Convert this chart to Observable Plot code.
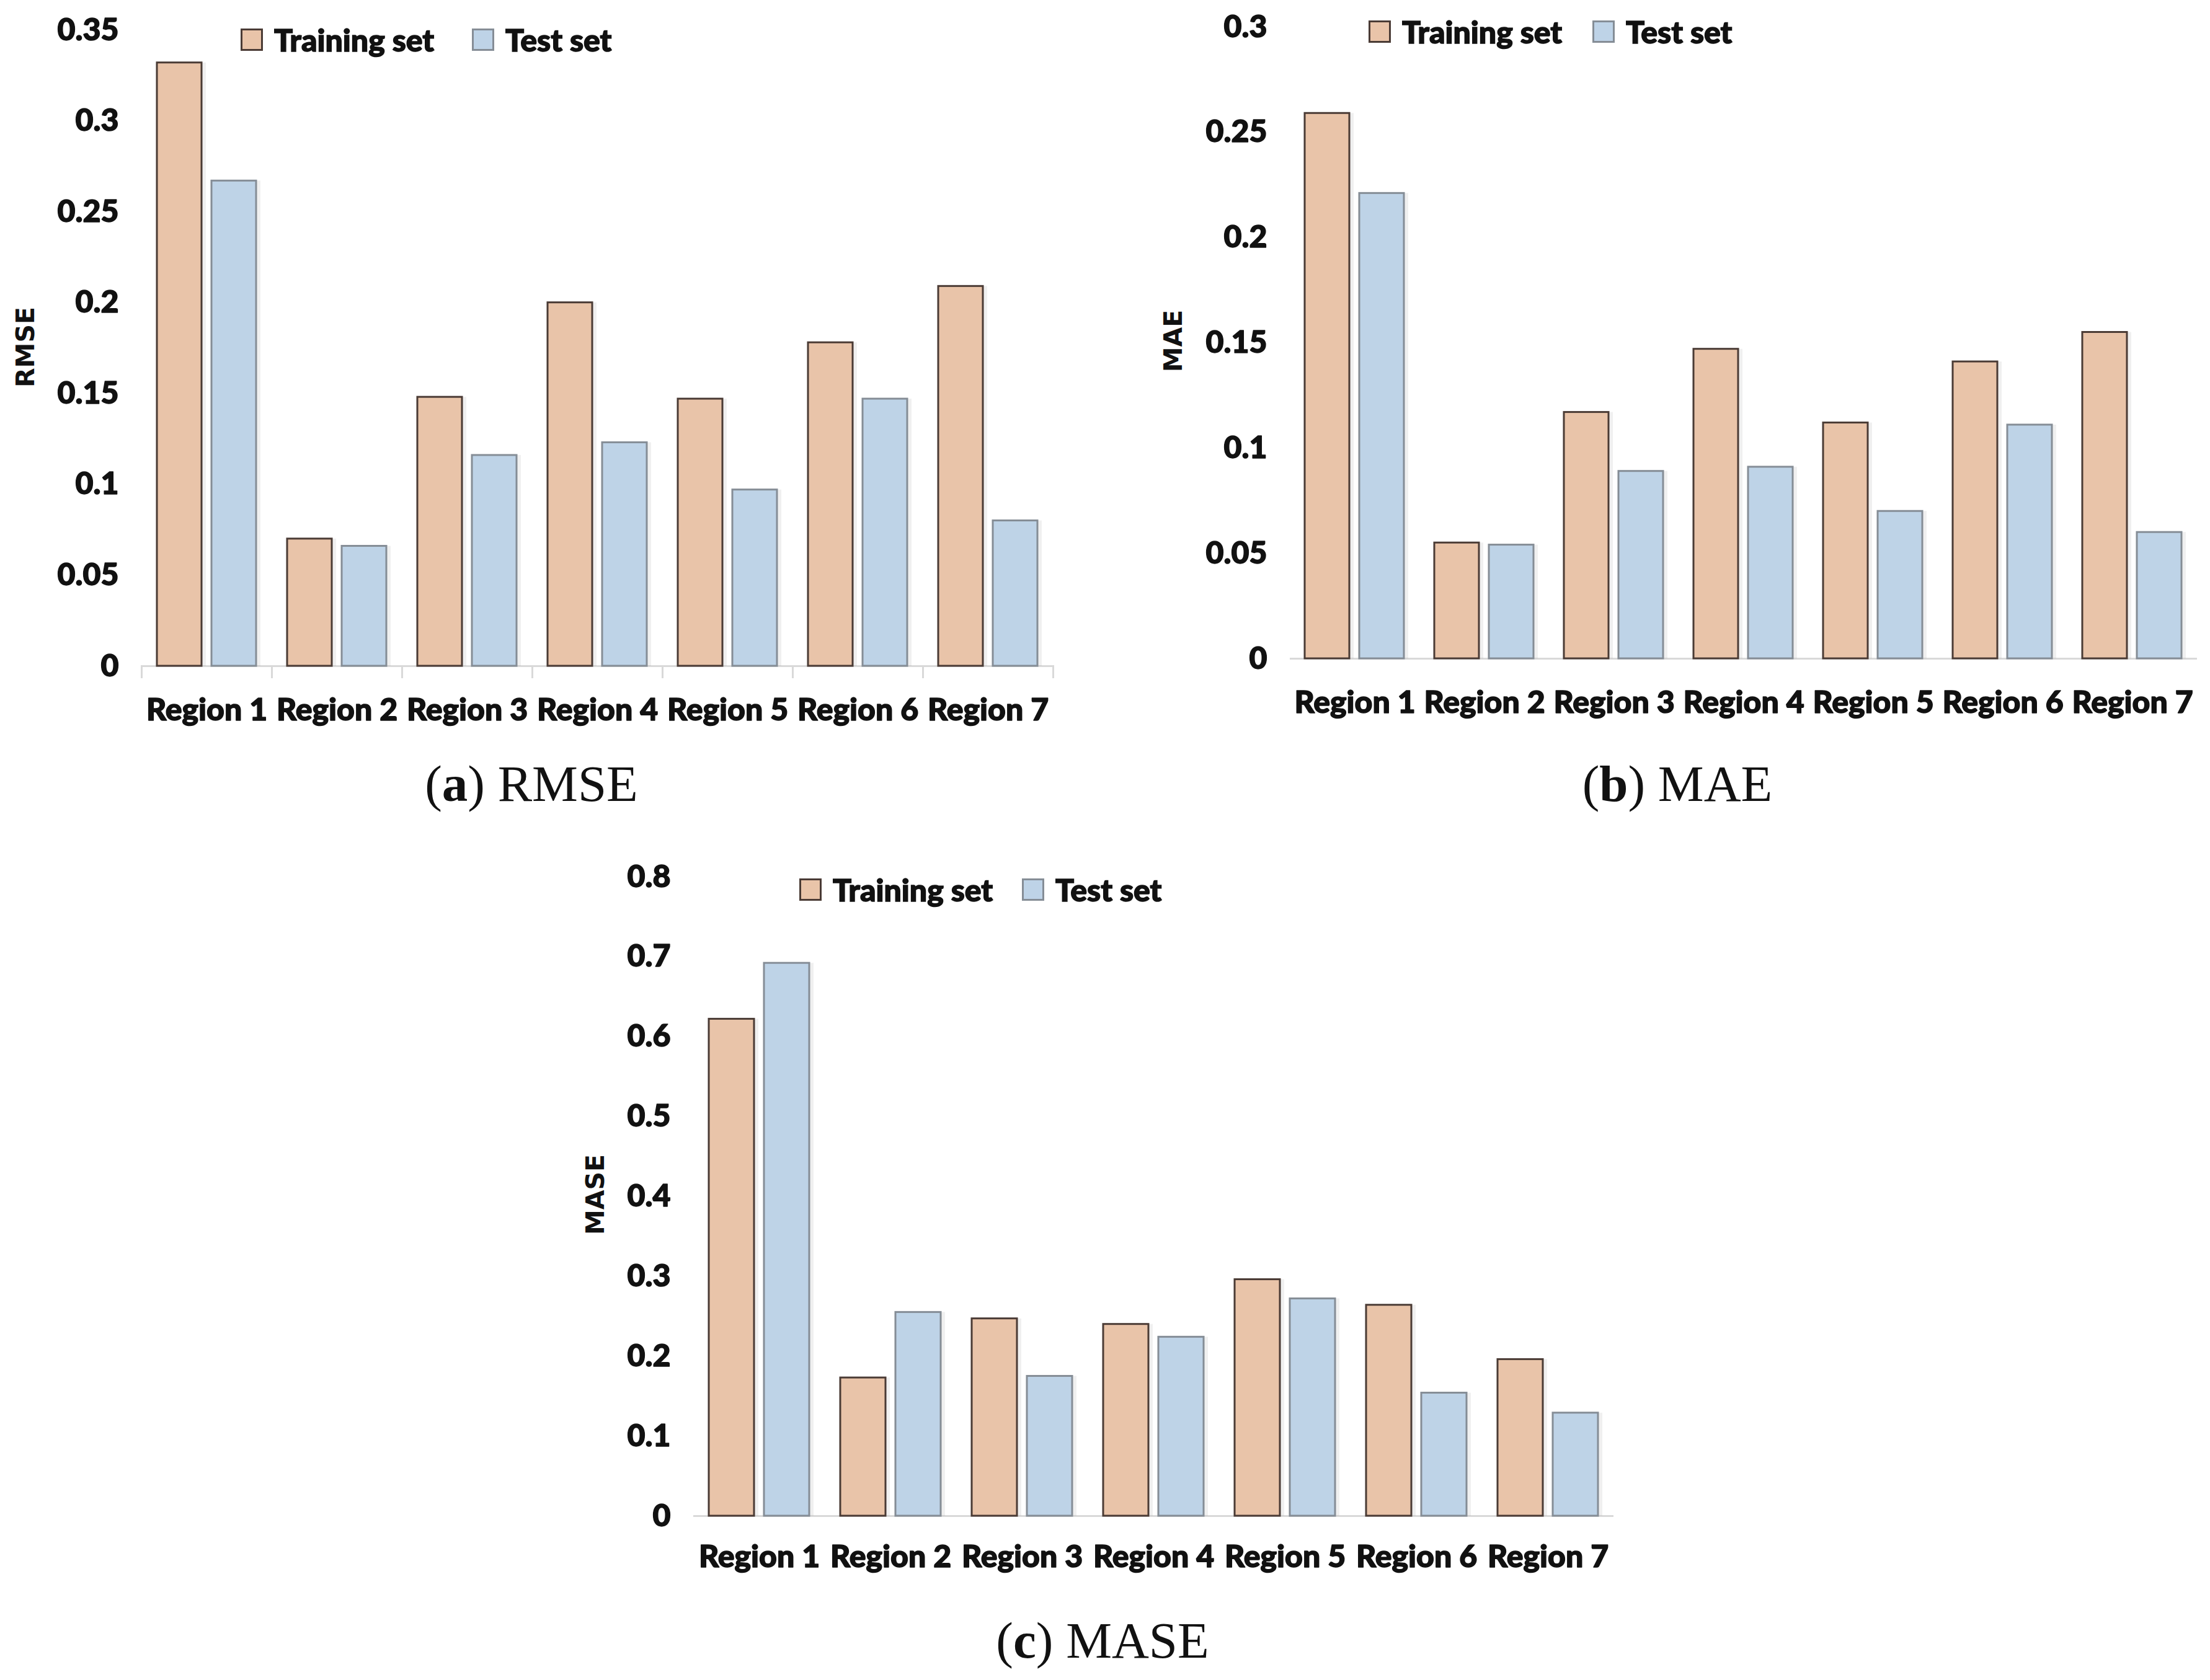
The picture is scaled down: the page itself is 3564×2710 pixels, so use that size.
<!DOCTYPE html>
<html><head><meta charset="utf-8">
<script src="https://cdn.jsdelivr.net/npm/d3@7"></script>
<script src="https://cdn.jsdelivr.net/npm/@observablehq/plot@0.6"></script>
<style>
body{margin:0;background:#fff;}
#page{position:relative;width:3564px;height:2710px;overflow:hidden;background:#fff;}
.panel{position:absolute;}
.item{position:absolute;display:flex;align-items:center;font-family:Lato,sans-serif;font-weight:900;font-size:50px;color:#111;-webkit-text-stroke:1.5px #111;white-space:nowrap;transform:translateY(-50%);}
.sw{width:30px;height:30px;border:3px solid;margin-right:18px;box-sizing:content-box;}
.ylab{position:absolute;font-family:"DejaVu Sans",Verdana,sans-serif;font-weight:700;font-size:41px;color:#111;transform:translate(-50%,-50%) rotate(-90deg);white-space:nowrap;}
.cap{position:absolute;font-family:"Liberation Serif","Times New Roman",serif;font-size:83px;color:#111;transform:translate(-50%,-50%);white-space:nowrap;}
</style></head>
<body><div id="page"></div>
<script>
const regions = ["Region 1","Region 2","Region 3","Region 4","Region 5","Region 6","Region 7"];
const series = ["Training set","Test set"];

const rmseTrain = [0.332, 0.070, 0.148, 0.200, 0.147, 0.178, 0.209];
const rmseTest  = [0.267, 0.066, 0.116, 0.123, 0.097, 0.147, 0.080];
const maeTrain  = [0.259, 0.055, 0.117, 0.147, 0.112, 0.141, 0.155];
const maeTest   = [0.221, 0.054, 0.089, 0.091, 0.070, 0.111, 0.060];
const maseTrain = [0.622, 0.173, 0.247, 0.240, 0.296, 0.264, 0.196];
const maseTest  = [0.692, 0.255, 0.175, 0.224, 0.272, 0.154, 0.129];

const rmseTicks = [0, 0.05, 0.1, 0.15, 0.2, 0.25, 0.3, 0.35];
const maeTicks  = [0, 0.05, 0.1, 0.15, 0.2, 0.25, 0.3];
const maseTicks = [0, 0.1, 0.2, 0.3, 0.4, 0.5, 0.6, 0.7, 0.8];

const trainFill = "#E9C4A9", trainStroke = "#4a3b35";
const testFill = "#BED3E7", testStroke = "#858d96";
const axisColor = "#d9d9d9";

const page = document.getElementById("page");

function chart({train, test, ticks, width, height, ml, mr, mt, mb, pad, boundaries}) {
  const rows = regions.flatMap((r, i) => [
    {region: r, set: series[0], value: train[i]},
    {region: r, set: series[1], value: test[i]}
  ]);
  const innerH = height - mt - mb;
  const marks = [Plot.ruleY([0], {stroke: axisColor, strokeWidth: 3})];
  if (boundaries) {
    marks.push(
      Plot.frame({anchor: "left", stroke: axisColor, strokeWidth: 3, insetTop: innerH, insetBottom: -18}),
      Plot.frame({anchor: "right", stroke: axisColor, strokeWidth: 3, insetTop: innerH, insetBottom: -18})
    );
  }
  marks.push(
    Plot.barY(rows, {fx: "region", x: "set", y: "value", fill: "#000", fillOpacity: 0.06, dx: 7}),
    Plot.barY(rows.filter(d => d.set === series[0]), {fx: "region", x: "set", y: "value", fill: trainFill, stroke: trainStroke, strokeWidth: 3}),
    Plot.barY(rows.filter(d => d.set === series[1]), {fx: "region", x: "set", y: "value", fill: testFill, stroke: testStroke, strokeWidth: 3}),
    Plot.axisY({ticks, tickSize: 0, tickPadding: 37, tickFormat: d => String(d), label: null, textStroke: "#111", textStrokeWidth: 1.5}),
    Plot.axisFx({anchor: "bottom", tickSize: 0, tickPadding: pad, label: null, textStroke: "#111", textStrokeWidth: 1.5})
  );
  return Plot.plot({
    width, height, marginLeft: ml, marginRight: mr, marginTop: mt, marginBottom: mb,
    fx: {domain: regions, padding: 0},
    x: {domain: series, paddingInner: 0.18, paddingOuter: 0.274, axis: null},
    y: {domain: [0, ticks[ticks.length - 1]]},
    style: {fontFamily: "Lato, sans-serif", fontWeight: "900", fontSize: "50px", color: "#111", background: "transparent", overflow: "visible"},
    marks
  });
}

function place(el, left, top) {
  const d = document.createElement("div");
  d.className = "panel";
  d.style.left = left + "px"; d.style.top = top + "px";
  d.appendChild(el);
  page.appendChild(d);
}
function legendItem(label, fill, stroke, left, cy) {
  const d = document.createElement("div");
  d.className = "item";
  d.style.left = left + "px"; d.style.top = cy + "px";
  const s = document.createElement("div");
  s.className = "sw"; s.style.background = fill; s.style.borderColor = stroke;
  d.appendChild(s);
  d.appendChild(document.createTextNode(label));
  page.appendChild(d);
}
function legend(x1, x2, cy) {
  legendItem(series[0], trainFill, trainStroke, x1, cy);
  legendItem(series[1], testFill, testStroke, x2, cy);
}
function ylab(text, cx, cy) {
  const d = document.createElement("div");
  d.className = "ylab"; d.textContent = text;
  d.style.left = cx + "px"; d.style.top = cy + "px";
  page.appendChild(d);
}
function caption(letter, name, cx, cy) {
  const d = document.createElement("div");
  d.className = "cap";
  d.innerHTML = "(<b>" + letter + "</b>) " + name;
  d.style.left = cx + "px"; d.style.top = cy + "px";
  page.appendChild(d);
}

// (a) RMSE
place(chart({train: rmseTrain, test: rmseTest, ticks: rmseTicks, width: 1760, height: 1220, ml: 226, mr: 60, mt: 48, mb: 146, pad: 52, boundaries: true}), 0, 0);
legend(388, 761, 64);
ylab("RMSE", 41, 560);
caption("a", "RMSE", 857, 1264);

// (b) MAE
place(chart({train: maeTrain, test: maeTest, ticks: maeTicks, width: 1782, height: 1220, ml: 297, mr: 20, mt: 43, mb: 158, pad: 52, boundaries: false}), 1782, 0);
legend(2207, 2568, 51);
ylab("MAE", 1892, 550);
caption("b", "MAE", 2705, 1264);

// (c) MASE
place(chart({train: maseTrain, test: maseTest, ticks: maseTicks, width: 1800, height: 1260, ml: 265, mr: 45, mt: 64, mb: 165, pad: 47, boundaries: false}), 850, 1350);
legend(1289, 1648, 1435);
ylab("MASE", 960, 1927);
caption("c", "MASE", 1778, 2646);
</script>
</body></html>
